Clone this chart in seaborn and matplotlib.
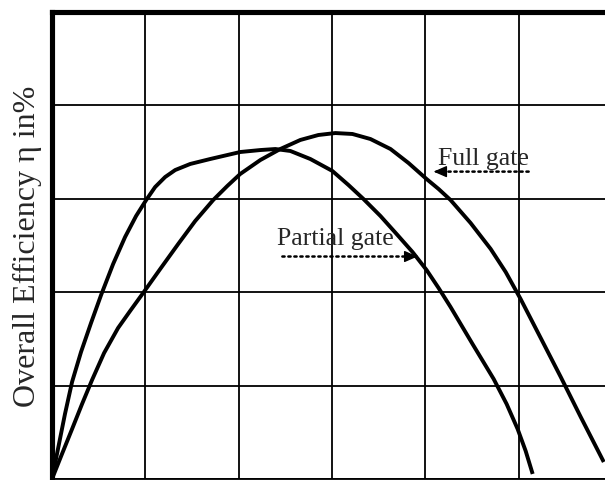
import matplotlib
matplotlib.use("Agg")
import matplotlib.pyplot as plt
import seaborn as sns
import pandas as pd

# Data (grid units)
partial_x = [0.0, 0.064, 0.139, 0.215, 0.311, 0.418, 0.526, 0.655, 0.783, 0.901, 1.009, 1.105, 1.212,
             1.320, 1.481, 1.695, 2.017, 2.232, 2.393, 2.554, 2.768, 3.004, 3.176, 3.337, 3.519, 3.702,
             3.863, 4.013, 4.142, 4.270, 4.506, 4.732, 4.871, 4.989, 5.075, 5.150]
partial_y = [0.0, 0.321, 0.696, 1.039, 1.360, 1.670, 1.970, 2.302, 2.591, 2.816, 2.987, 3.126, 3.233,
             3.308, 3.373, 3.426, 3.501, 3.522, 3.533, 3.512, 3.426, 3.298, 3.148, 2.998, 2.816, 2.612,
             2.430, 2.238, 2.045, 1.842, 1.445, 1.071, 0.803, 0.535, 0.300, 0.054]
full_x = [0.0, 0.107, 0.215, 0.322, 0.429, 0.558, 0.708, 0.837, 0.976, 1.159, 1.352, 1.534, 1.727,
          1.878, 2.017, 2.232, 2.446, 2.661, 2.854, 3.036, 3.219, 3.412, 3.627, 3.820, 4.013, 4.142,
          4.270, 4.485, 4.700, 4.861, 5.021, 5.236, 5.451, 5.665, 5.912]
full_y = [0.0, 0.268, 0.535, 0.803, 1.060, 1.349, 1.617, 1.799, 1.991, 2.248, 2.516, 2.762, 2.987,
          3.137, 3.266, 3.415, 3.533, 3.630, 3.683, 3.704, 3.694, 3.640, 3.533, 3.383, 3.212, 3.105,
          2.987, 2.741, 2.463, 2.216, 1.927, 1.510, 1.092, 0.664, 0.182]
series_names = ["Partial gate", "Full gate"]
ylabel = "Overall Efficiency η in%"

df = pd.concat([
    pd.DataFrame({"x": partial_x, "y": partial_y, "series": series_names[0]}),
    pd.DataFrame({"x": full_x, "y": full_y, "series": series_names[1]}),
])

sns.set_style("white")
plt.rcParams["font.family"] = ["Liberation Serif", "DejaVu Serif"]

fig = plt.figure(figsize=(6.05, 4.81), dpi=100)
ax = fig.add_axes([52 / 605, 1 / 481, 560 / 605, 467 / 481])

sns.lineplot(data=df, x="x", y="y", hue="series", palette=["black", "black"],
             sort=False, legend=False, linewidth=2.8, ax=ax, estimator=None)
for ln in ax.get_lines():
    ln.set_solid_capstyle("butt")
    ln.set_solid_joinstyle("round")

ax.set_xlim(0, 6)
ax.set_ylim(0, 5)
ax.set_xticks(range(0, 7))
ax.set_yticks(range(0, 6))
ax.set_xticklabels([])
ax.set_yticklabels([])
ax.tick_params(length=0)
ax.grid(True, color="black", linewidth=1.3)
ax.set_axisbelow(True)
ax.set_xlabel("")
ax.set_ylabel(ylabel, fontsize=23, labelpad=4)

for side, lw in [("left", 3.7), ("top", 3.7), ("bottom", 1.3), ("right", 1.3)]:
    ax.spines[side].set_visible(True)
    ax.spines[side].set_color("black")
    ax.spines[side].set_linewidth(lw)

# Annotations
ax.text(4.131, 3.376, series_names[1], fontsize=18.5, ha="left", va="baseline")
ax.text(2.414, 2.521, series_names[0], fontsize=18.5, ha="left", va="baseline")

def dotted_arrow(tail, tip):
    ax.annotate("", xy=tip, xytext=tail,
                arrowprops=dict(arrowstyle="-", linestyle=(0, (0.9, 1.5)),
                                linewidth=1.8, color="black",
                                shrinkA=0, shrinkB=0))
    dx = 0.13 if tail[0] > tip[0] else -0.13
    ax.annotate("", xy=tip, xytext=(tip[0] + dx, tip[1]),
                arrowprops=dict(arrowstyle="-|>,head_length=0.8,head_width=0.35",
                                linewidth=1, color="black",
                                shrinkA=0, shrinkB=0))

dotted_arrow((5.107, 3.291), (4.088, 3.291))
dotted_arrow((2.468, 2.382), (3.916, 2.382))

fig.savefig("out.png", dpi=100)
